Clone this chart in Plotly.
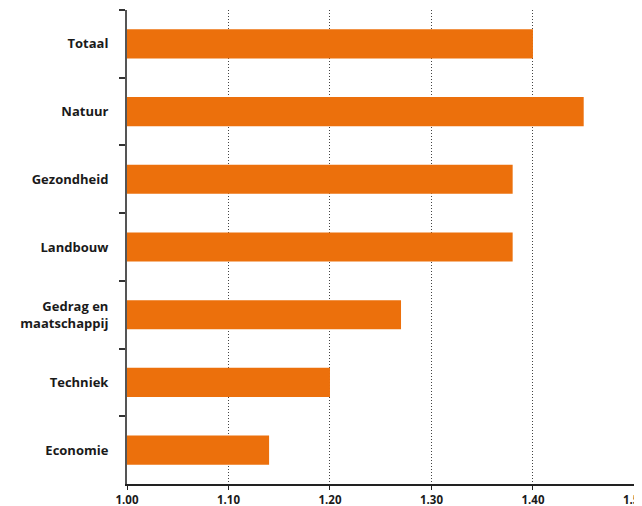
import plotly.graph_objects as go

categories = ["Totaal", "Natuur", "Gezondheid", "Landbouw", "Gedrag en<br>maatschappij", "Techniek", "Economie"]
values = [1.40, 1.45, 1.38, 1.38, 1.27, 1.20, 1.14]
x_ticks = [1.00, 1.10, 1.20, 1.30, 1.40, 1.50]
base_value = 1.0

fig = go.Figure(go.Bar(
    x=[v - base_value for v in values], y=categories, orientation="h", base=base_value,
    marker=dict(color="#EC700C", line=dict(width=0)),
    width=0.43,
))

fig.update_layout(
    width=634, height=498,
    margin=dict(l=119, r=4, t=2, b=22, autoexpand=False),
    plot_bgcolor="white", paper_bgcolor="white",
    showlegend=False,
    font=dict(family="Open Sans", color="#1a1a1a"),
)
fig.update_xaxes(
    range=[1.0, 1.5035], tickvals=x_ticks, tickformat=".2f",
    showgrid=True, gridcolor="#444", griddash="1px,2px", gridwidth=1,
    showline=True, linecolor="#222", linewidth=1.5,
    ticks="outside", ticklen=4, tickcolor="#222", tickwidth=1,
    tickfont=dict(size=11.5, family="Open Sans", weight="bold"),
    ticklabeloverflow="allow",
    automargin=False, zeroline=False,
)
fig.update_yaxes(
    categoryorder="array", categoryarray=categories, autorange="reversed",
    tickson="boundaries", ticks="outside", ticklen=6, tickcolor="#333", tickwidth=1.5,
    showline=True, linecolor="#555", linewidth=2,
    showgrid=False, ticklabelstandoff=14,
    tickfont=dict(size=13, family="Open Sans", weight="bold"),
    automargin=False,
)
fig.write_html("out.html")
